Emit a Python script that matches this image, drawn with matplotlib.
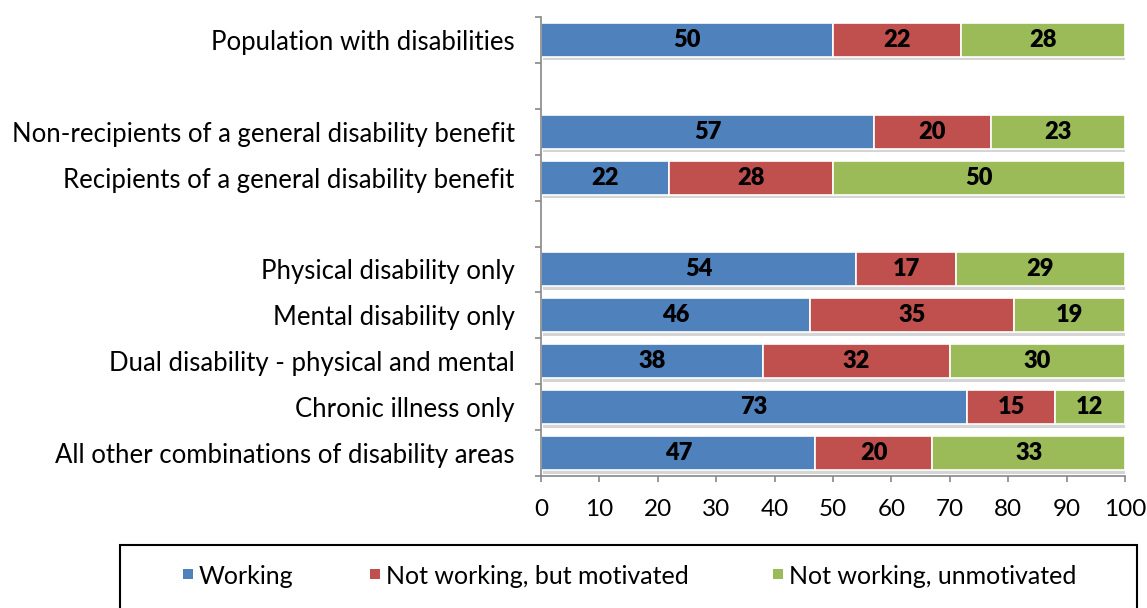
import matplotlib.pyplot as plt
import matplotlib.patheffects as pe
from matplotlib.patches import Rectangle
import numpy as np

plt.rcParams['font.family'] = ['Lato', 'DejaVu Sans']

# Slots top-to-bottom; empty strings are spacer rows between groups
categories = [
    "Population with disabilities",
    "",
    "Non-recipients of a general disability benefit",
    "Recipients of a general disability benefit",
    "",
    "Physical disability only",
    "Mental disability only",
    "Dual disability - physical and mental",
    "Chronic illness only",
    "All other combinations of disability areas",
]
working = [50, None, 57, 22, None, 54, 46, 38, 73, 47]
motivated = [22, None, 20, 28, None, 17, 35, 32, 15, 20]
unmotivated = [28, None, 23, 50, None, 29, 19, 30, 12, 33]

series_names = ["Working", "Not working, but motivated", "Not working, unmotivated"]
colors = ["#4F81BD", "#C0504D", "#9BBB59"]
x_ticks = list(range(0, 101, 10))

W, H = 1147, 608
fig = plt.figure(figsize=(W / 100, H / 100), dpi=100)
ax = fig.add_axes([541 / W, 1 - 476 / H, (1125 - 541) / W, (476 - 17) / H])

shadow = [pe.SimplePatchShadow(offset=(1.5, -2.5), shadow_rgbFace="#888888", alpha=0.35), pe.Normal()]

all_series = [working, motivated, unmotivated]
for s_idx, (vals, color) in enumerate(zip(all_series, colors)):
    for i, v in enumerate(vals):
        if v is None:
            continue
        left = sum(s[i] for s in all_series[:s_idx])
        bar = ax.barh(i, v, left=left, height=0.74, color=color, edgecolor="white", linewidth=1.2)
        bar.patches[0].set_path_effects(shadow)
        ax.text(left + v / 2, i, str(v), ha="center", va="center",
                fontsize=17, fontweight="heavy", color="black")

ax.set_xlim(0, 100)
ax.set_ylim(len(categories) - 0.5, -0.5)
ax.set_xticks(x_ticks)
ax.set_xticklabels([str(t) for t in x_ticks], fontsize=17.5)
ax.set_yticks(range(len(categories)))
ax.set_yticklabels(categories, fontsize=18.5)
ax.tick_params(axis="y", which="major", length=0, pad=19)
ax.set_yticks(np.arange(-0.5, len(categories), 1), minor=True)
ax.tick_params(axis="y", which="minor", length=4.5, color="#888888", width=1.2)
ax.tick_params(axis="x", length=4.5, color="#888888", width=1.2, pad=12)

for side in ["top", "right"]:
    ax.spines[side].set_visible(False)
for side in ["left", "bottom"]:
    ax.spines[side].set_color("#888888")
    ax.spines[side].set_linewidth(1.2)

# Framed legend beneath the plot, entries laid out on one row
frame = Rectangle((120 / W, -0.02), (1137 - 120) / W, 1 - 545 / H + 0.02,
                  transform=fig.transFigure, fill=False, edgecolor="black", linewidth=1.5, clip_on=False)
fig.add_artist(frame)
legend_y = 574
swatch = 10
for name, color, x0 in zip(series_names, colors, [183, 370, 773]):
    fig.add_artist(Rectangle((x0 / W, (H - legend_y - swatch / 2) / H), swatch / W, swatch / H,
                             transform=fig.transFigure, facecolor=color, edgecolor="none"))
    fig.text((x0 + swatch + 6) / W, (H - legend_y) / H, name, ha="left", va="center_baseline",
             fontsize=18, color="black")

fig.savefig("out.png", dpi=100)
